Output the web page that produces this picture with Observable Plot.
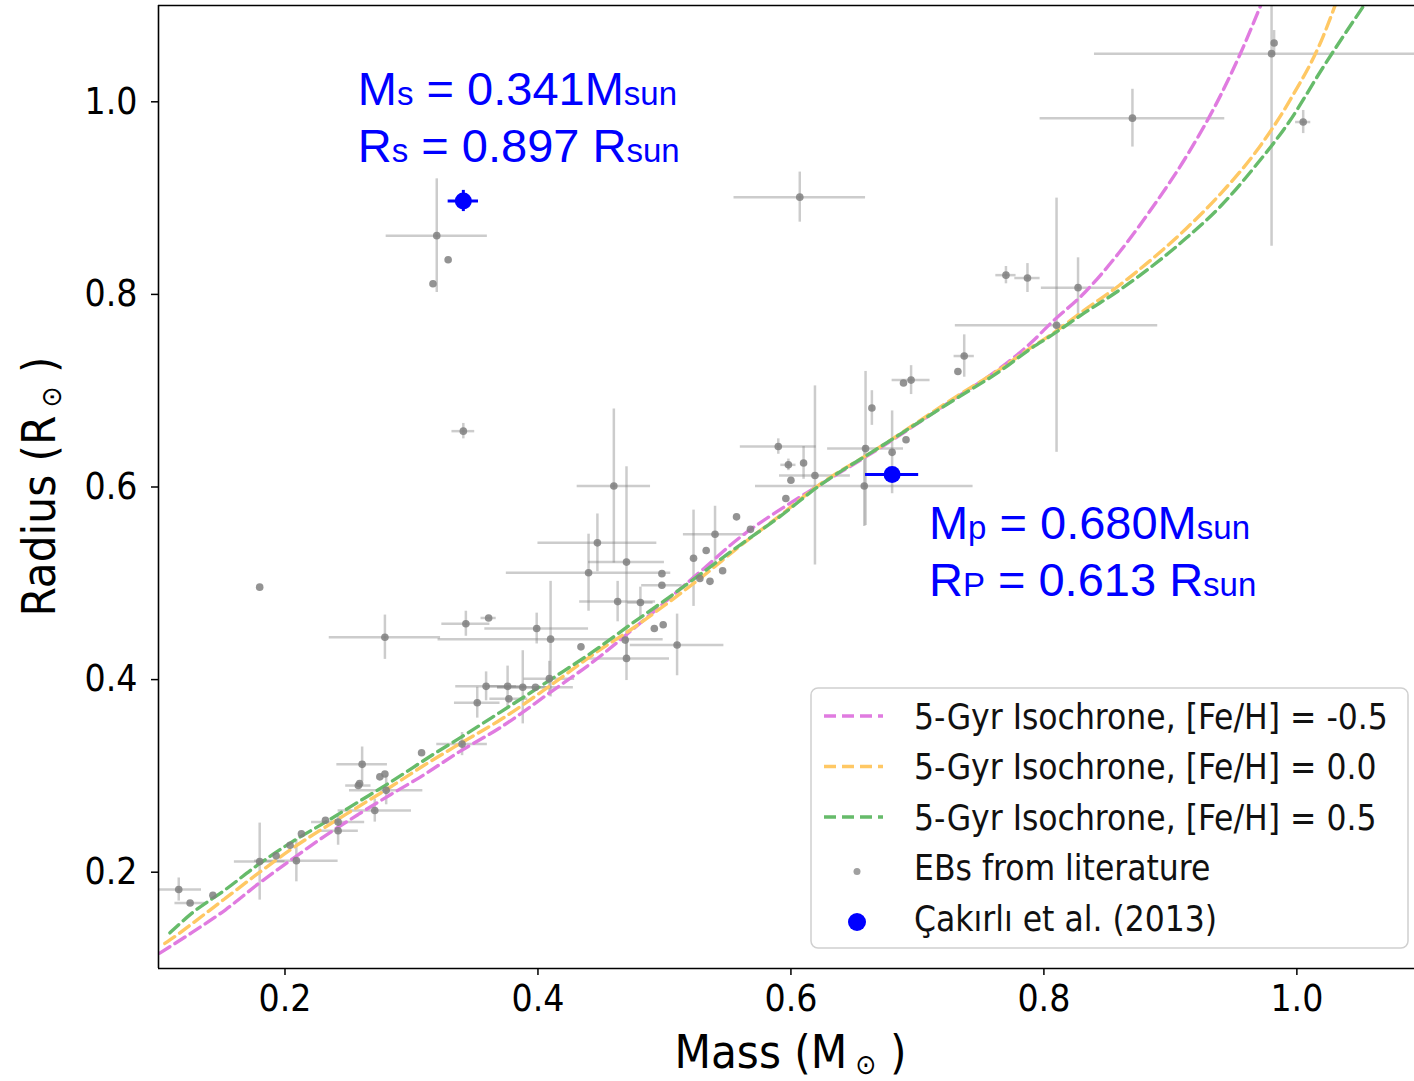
<!DOCTYPE html>
<html>
<head>
<meta charset="utf-8">
<script src="https://cdn.jsdelivr.net/npm/d3@7"></script>
<script src="https://cdn.jsdelivr.net/npm/@observablehq/plot@0.6"></script>
<style>
  body { margin: 0; background: #fff; }
  #chart { width: 1414px; height: 1081px; overflow: hidden; }
  #chart svg { display: block; }
</style>
</head>
<body>
<div id="chart"></div>
<script>
// ---------- data ----------
// Eclipsing binaries from literature (mass, radius, errors)
const ebMass      = [0.116,0.125,0.143,0.180,0.209,0.193,0.204,0.213,0.232,0.242,0.242,0.258,0.271,0.280,0.261,0.279,0.275,0.259,0.279,0.343,0.361,0.399,0.410,0.440,0.463,0.469,0.470,0.434,0.359,0.376,0.388,0.352,0.377,0.398,0.409,0.340,0.308,0.460,0.470,0.447,0.481,0.498,0.498,0.492,0.499,0.510,0.540,0.523,0.533,0.546,0.536,0.528,0.557,0.590,0.598,0.600,0.610,0.619,0.658,0.659,0.664,0.680,0.691,0.689,0.695,0.737,0.732,0.596,0.568,0.770,0.787,0.827,0.810,0.870,0.980,0.982,1.005,0.320,0.329,0.317,0.341,0.180,0.607];
const ebRadius    = [0.182,0.168,0.176,0.211,0.212,0.217,0.228,0.240,0.254,0.243,0.252,0.290,0.264,0.285,0.312,0.302,0.299,0.292,0.444,0.458,0.464,0.453,0.442,0.511,0.481,0.441,0.422,0.434,0.393,0.393,0.392,0.376,0.380,0.392,0.401,0.333,0.324,0.601,0.522,0.542,0.480,0.510,0.498,0.453,0.457,0.436,0.551,0.526,0.534,0.513,0.502,0.505,0.569,0.642,0.623,0.607,0.625,0.612,0.601,0.640,0.682,0.636,0.649,0.708,0.711,0.736,0.720,0.588,0.556,0.820,0.817,0.807,0.768,0.983,1.050,1.061,0.979,0.861,0.836,0.811,0.658,0.496,0.901];
const ebMassErr   = [0.018,0.012,0,0.020,0.033,0,0,0,0,0.016,0.021,0.010,0.029,0.029,0.020,0,0,0,0.044,0.019,0.006,0.041,0.089,0.065,0.030,0,0.034,0,0.024,0.015,0.020,0.018,0.015,0.030,0.020,0.020,0,0.029,0.030,0.047,0.010,0,0.016,0,0,0.037,0.025,0,0,0,0,0,0,0.030,0.006,0,0,0.028,0.086,0.030,0,0,0,0,0.015,0.008,0,0,0,0.008,0.010,0.029,0.080,0.073,0.140,0,0.006,0.040,0,0,0.009,0,0.052];
const ebRadiusErr = [0.012,0,0,0.040,0.022,0,0,0,0,0.015,0,0,0.012,0.015,0.018,0,0,0,0.023,0.013,0,0.016,0.060,0.040,0.021,0,0.023,0,0.015,0.021,0.038,0.016,0,0,0.018,0.012,0,0.080,0.099,0.030,0.016,0,0,0,0,0.032,0.029,0.050,0,0,0,0,0,0.008,0.006,0,0.017,0.093,0.042,0.080,0.018,0.043,0,0,0.015,0.022,0,0,0,0.009,0.015,0.031,0.132,0.030,0.200,0.013,0.012,0.059,0,0,0.008,0,0.026];

// Çakırlı et al. (2013): secondary and primary
const cakMass      = [0.341, 0.680];
const cakRadius    = [0.897, 0.613];
const cakMassErr   = [0.012, 0.021];
const cakRadiusErr = [0.011, 0.004];

// 5-Gyr isochrones
const isoLabels = ["5-Gyr Isochrone, [Fe/H] = -0.5", "5-Gyr Isochrone, [Fe/H] = 0.0", "5-Gyr Isochrone, [Fe/H] = 0.5"];
const isoPoorMass   = [0.101,0.126,0.153,0.179,0.205,0.232,0.258,0.284,0.306,0.339,0.370,0.410,0.449,0.473,0.500,0.530,0.560,0.592,0.620,0.671,0.7285,0.766,0.790,0.8054,0.8323,0.8592,0.8862,0.913,0.940,0.956,0.9723];
const isoPoorRadius = [0.116,0.137,0.161,0.188,0.213,0.238,0.260,0.281,0.298,0.326,0.350,0.387,0.424,0.450,0.480,0.514,0.548,0.577,0.600,0.641,0.691,0.724,0.750,0.770,0.802,0.843,0.891,0.944,1.0075,1.052,1.103];
const isoSolarMass   = [0.105,0.116,0.126,0.153,0.179,0.205,0.232,0.258,0.284,0.310,0.339,0.370,0.410,0.449,0.473,0.500,0.530,0.560,0.592,0.620,0.671,0.7285,0.766,0.790,0.8054,0.8323,0.8592,0.8862,0.913,0.940,0.967,0.9938,1.0208,1.0316];
const isoSolarRadius = [0.126,0.136,0.146,0.173,0.199,0.224,0.247,0.268,0.289,0.311,0.334,0.358,0.394,0.431,0.4515,0.477,0.507,0.539,0.571,0.600,0.642,0.692,0.723,0.745,0.758,0.784,0.809,0.8375,0.869,0.905,0.947,1.000,1.068,1.105];
const isoRichMass   = [0.109,0.126,0.153,0.179,0.205,0.232,0.258,0.284,0.318,0.339,0.370,0.410,0.449,0.473,0.500,0.530,0.560,0.592,0.620,0.671,0.7285,0.766,0.790,0.8054,0.8323,0.8592,0.8862,0.913,0.940,0.967,0.9938,1.0208,1.053];
const isoRichRadius = [0.137,0.157,0.182,0.208,0.231,0.252,0.273,0.294,0.323,0.340,0.366,0.400,0.434,0.457,0.482,0.511,0.540,0.570,0.599,0.642,0.690,0.721,0.744,0.757,0.781,0.804,0.830,0.859,0.892,0.933,0.979,1.036,1.100];

// axes / labels
const xDomain = [0.1, 1.093];
const yDomain = [0.1, 1.1];
const xTicks = [0.2, 0.4, 0.6, 0.8, 1.0];
const yTicks = [0.2, 0.4, 0.6, 0.8, 1.0];
const ebLabel = "EBs from literature";
const cakLabel = "Çakırlı et al. (2013)";
const annotations = [
  {m: 0.258, r: 0.996, parts: [["M", 1], ["s", 0], [" = 0.341M", 1], ["sun", 0]]},
  {m: 0.258, r: 0.937, parts: [["R", 1], ["s", 0], [" = 0.897 R", 1], ["sun", 0]]},
  {m: 0.7095, r: 0.545, parts: [["M", 1], ["p", 0], [" = 0.680M", 1], ["sun", 0]]},
  {m: 0.7095, r: 0.486, parts: [["R", 1], ["P", 0], [" = 0.613 R", 1], ["sun", 0]]}
];

// ---------- styles ----------
const FONT = '"DejaVu Sans Condensed", "DejaVu Sans", sans-serif';
const isoColors = ["#e07be0", "#ffc864", "#66bb6a"];
const cakColor = "#0000ff";

// ---------- tables ----------
const eb = ebMass.map((m, i) => ({m, r: ebRadius[i], dm: ebMassErr[i], dr: ebRadiusErr[i]}));
const cak = cakMass.map((m, i) => ({m, r: cakRadius[i], dm: cakMassErr[i], dr: cakRadiusErr[i]}));
const iso = [
  ...isoPoorMass.map((m, i) => ({m, r: isoPoorRadius[i], series: isoLabels[0]})),
  ...isoSolarMass.map((m, i) => ({m, r: isoSolarRadius[i], series: isoLabels[1]})),
  ...isoRichMass.map((m, i) => ({m, r: isoRichRadius[i], series: isoLabels[2]}))
];

const plot = Plot.plot({
  width: 1414, height: 1081,
  marginLeft: 158, marginRight: 0, marginTop: 5, marginBottom: 113,
  x: {domain: xDomain},
  y: {domain: yDomain},
  color: {domain: isoLabels, range: isoColors},
  style: {background: "white", color: "black", fontFamily: FONT},
  marks: [
    Plot.ruleY(eb.filter(d => d.dm > 0), {y: "r", x1: d => d.m - d.dm, x2: d => d.m + d.dm, stroke: "#808080", strokeOpacity: 0.4, strokeWidth: 2.5, clip: true}),
    Plot.ruleX(eb.filter(d => d.dr > 0), {x: "m", y1: d => d.r - d.dr, y2: d => d.r + d.dr, stroke: "#808080", strokeOpacity: 0.4, strokeWidth: 2.5, clip: true}),
    Plot.line(iso, {x: "m", y: "r", z: "series", stroke: "series", strokeWidth: 3.4, strokeDasharray: "12,6", curve: "monotone-x", clip: true}),
    Plot.dot(eb, {x: "m", y: "r", r: 3.8, fill: "#808080", fillOpacity: 0.85}),
    Plot.ruleY(cak, {y: "r", x1: d => d.m - d.dm, x2: d => d.m + d.dm, stroke: cakColor, strokeWidth: 3}),
    Plot.ruleX(cak, {x: "m", y1: d => d.r - d.dr, y2: d => d.r + d.dr, stroke: cakColor, strokeWidth: 3}),
    Plot.dot(cak, {x: "m", y: "r", r: 8.5, fill: cakColor}),
    Plot.ruleX([xDomain[0]], {stroke: "black", strokeWidth: 1.6}),
    Plot.ruleY([yDomain[0], yDomain[1]], {stroke: "black", strokeWidth: 1.6}),
    Plot.axisX({ticks: xTicks, tickFormat: d => d.toFixed(1), tickSize: 7, tickPadding: 9, fontSize: 37, label: null, strokeWidth: 1.5}),
    Plot.axisY({ticks: yTicks, tickFormat: d => d.toFixed(1), tickSize: 7, tickPadding: 14, fontSize: 37, label: null, strokeWidth: 1.5})
  ]
});

document.getElementById("chart").appendChild(plot);

const svg = d3.select(plot);
const sx = plot.scale("x"), sy = plot.scale("y");
const xMid = sx.apply((0.1 + 1.1) / 2);
const yMid = sy.apply((yDomain[0] + yDomain[1]) / 2);

// axis labels with solar symbol
function axisLabel(sel, main) {
  sel.attr("text-anchor", "middle")
    .style("font-family", FONT).style("font-size", "47px").attr("fill", "black")
    .style("white-space", "pre");
  sel.append("tspan").text(main);
  sel.append("tspan").text(" ⊙").style("font-size", "28px").attr("dy", 6);
  sel.append("tspan").text(" )").attr("dy", -6);
}
axisLabel(svg.append("text").attr("x", xMid).attr("y", 1068), "Mass (M");
axisLabel(svg.append("text").attr("transform", `translate(55,${yMid}) rotate(-90)`), "Radius (R");

// blue annotations
annotations.forEach(a => {
  const t = svg.append("text")
    .attr("x", sx.apply(a.m)).attr("y", sy.apply(a.r))
    .attr("text-anchor", "start")
    .attr("fill", cakColor)
    .style("font-family", '"Liberation Sans", Arial, sans-serif')
    .style("white-space", "pre");
  a.parts.forEach(([s, big]) => t.append("tspan").text(s).style("font-size", big ? "47px" : "33px"));
});

// legend
const legendEntries = [
  {label: isoLabels[0], kind: "line", color: isoColors[0]},
  {label: isoLabels[1], kind: "line", color: isoColors[1]},
  {label: isoLabels[2], kind: "line", color: isoColors[2]},
  {label: ebLabel, kind: "dot", color: "#a0a0a0", r: 3.5},
  {label: cakLabel, kind: "dot", color: cakColor, r: 9}
];
const lg = svg.append("g");
lg.append("rect").attr("x", 811).attr("y", 688).attr("width", 597).attr("height", 260).attr("rx", 7)
  .attr("fill", "white").attr("fill-opacity", 0.85).attr("stroke", "#d0d0d0").attr("stroke-width", 1.5);
legendEntries.forEach((e, i) => {
  const cy = 716 + i * 50.5;
  if (e.kind === "line") {
    lg.append("line").attr("x1", 824).attr("x2", 883).attr("y1", cy).attr("y2", cy)
      .attr("stroke", e.color).attr("stroke-width", 3.4).attr("stroke-dasharray", "12,6");
  } else {
    lg.append("circle").attr("cx", 857).attr("cy", cy + 4).attr("r", e.r).attr("fill", e.color);
  }
  lg.append("text").attr("x", 914).attr("y", cy).attr("dy", "0.36em")
    .attr("text-anchor", "start")
    .style("font-family", FONT).style("font-size", "35px").attr("fill", "#111").text(e.label);
});
</script>
</body>
</html>
